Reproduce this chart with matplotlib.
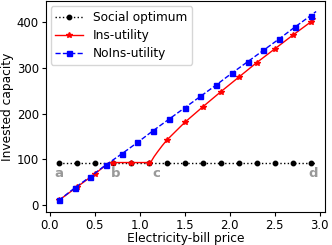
import matplotlib
matplotlib.use("Agg")
import matplotlib.pyplot as plt

# Social optimum
so_x = [0.1, 0.3, 0.5, 0.7, 0.9, 1.1, 1.3, 1.5, 1.7, 1.9, 2.1, 2.3, 2.5, 2.7, 2.9, 2.95]
so_y = [93] * len(so_x)
so_marks = list(range(15))

# Ins-utility
ins_x = [0.1, 0.3, 0.5, 0.66, 0.7, 0.9, 1.1, 1.12, 1.16, 1.2, 1.25, 1.3, 1.5, 1.7, 1.9, 2.1, 2.3, 2.5, 2.7, 2.9, 2.95]
ins_y = [10, 39, 68, 93, 93, 93, 93, 93, 106, 117, 130, 142, 181, 215, 248, 280, 312, 342, 372, 401, 408]
ins_marks = [0, 1, 2, 4, 5, 6, 11, 12, 13, 14, 15, 16, 17, 18, 19]

# NoIns-utility
noins_x = [0.1, 0.275, 0.45, 0.625, 0.8, 0.975, 1.15, 1.325, 1.5, 1.675, 1.85, 2.025, 2.2, 2.375, 2.55, 2.725, 2.9, 2.96]
noins_y = [10, 37, 62, 88, 112, 137, 163, 188, 213, 238, 263, 289, 314, 339, 364, 390, 415, 424]
noins_marks = list(range(17))

labels = [("a", 0.1), ("b", 0.735), ("c", 1.18), ("d", 2.93)]
label_y = 70

plt.rcParams['font.family'] = ['DejaVu Sans']
fig = plt.figure(figsize=(3.32, 2.45), dpi=100)
ax = fig.add_axes([0.1377, 0.136, 0.8423, 0.858])

ax.plot(so_x, so_y, color='black', linestyle=':', marker='o', markersize=3.2,
        linewidth=1.0, markevery=so_marks, label='Social optimum')
ax.plot(ins_x, ins_y, color='red', linestyle='-', marker='*', markersize=4,
        linewidth=1.0, markevery=ins_marks, label='Ins-utility')
ax.plot(noins_x, noins_y, color='blue', linestyle='--', marker='s', markersize=3.6,
        linewidth=1.0, markevery=noins_marks, label='NoIns-utility')

for t, x in labels:
    ax.text(x, label_y, t, color='#999999', fontsize=9.5, fontweight='bold',
            ha='center', va='center')

ax.set_xlim(-0.045, 3.063)
ax.set_ylim(-14.7, 446)
ax.set_xticks([0.0, 0.5, 1.0, 1.5, 2.0, 2.5, 3.0])
ax.set_yticks([0, 100, 200, 300, 400])
ax.tick_params(labelsize=8.4, length=3, pad=2)
ax.set_xlabel('Electricity-bill price', fontsize=8.8, labelpad=0.5)
ax.set_ylabel('Invested capacity', fontsize=8.8, labelpad=1.5)
ax.legend(loc='upper left', fontsize=8.7, handlelength=2.3, borderaxespad=0.4,
          handletextpad=0.8, labelspacing=0.4)

fig.savefig('out.png', dpi=100)
